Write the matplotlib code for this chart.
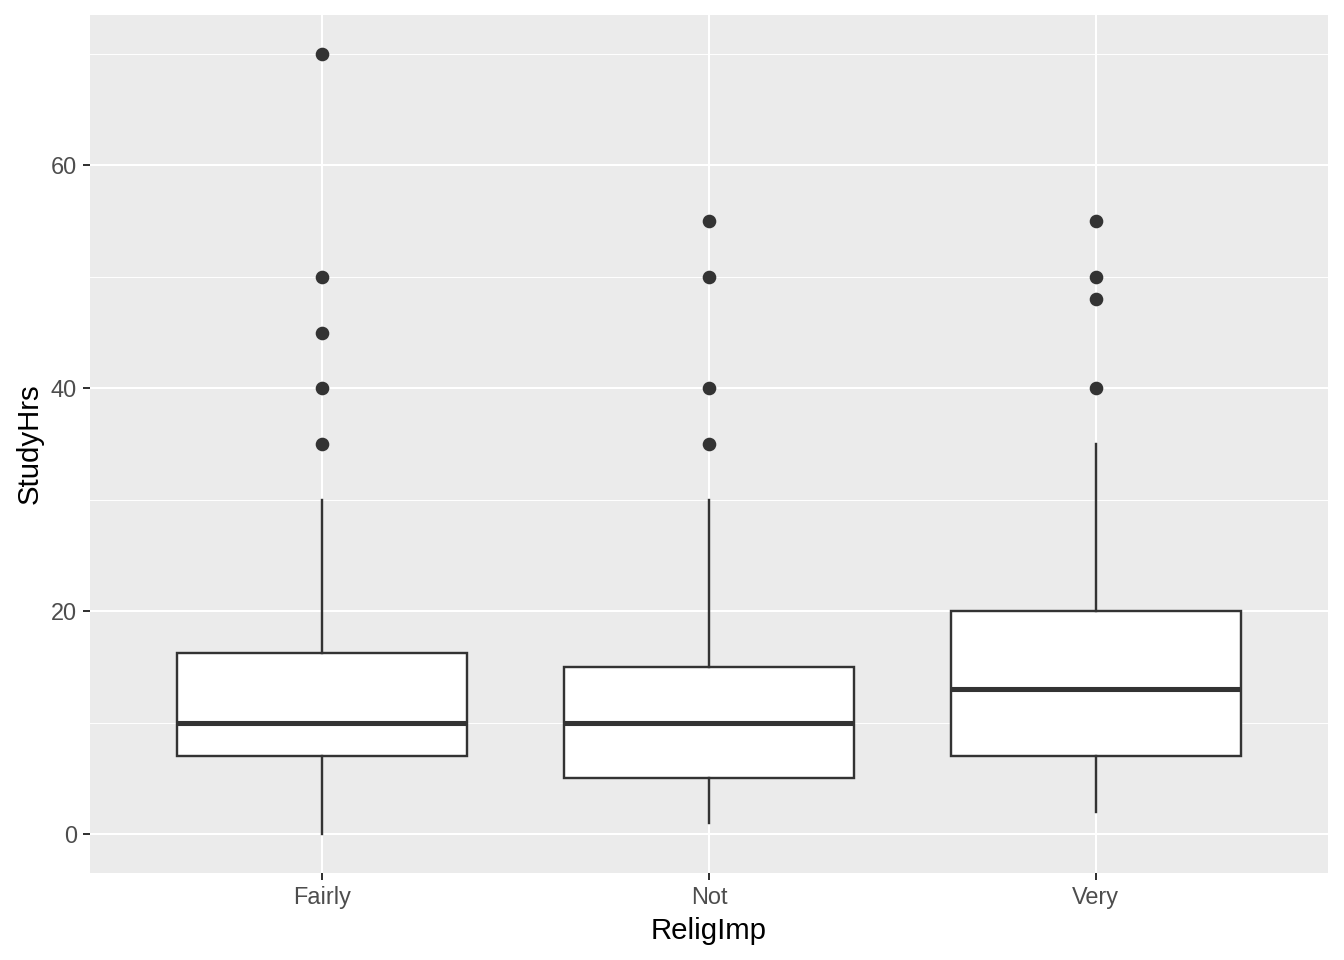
import matplotlib
matplotlib.use("Agg")
import matplotlib.pyplot as plt

categories = ["Fairly", "Not", "Very"]
q1 = [7, 5, 7]
med = [10, 10, 13]
q3 = [16.25, 15, 20]
whislo = [0, 1, 2]
whishi = [30, 30, 35]
fliers = [[35, 40, 45, 50, 70], [35, 40, 50, 55], [40, 48, 50, 55]]

plt.rcParams['font.family'] = ['Liberation Sans', 'DejaVu Sans']

fig = plt.figure(figsize=(7, 5), dpi=192)
ax = fig.add_axes([90/1344, 1-873/960, (1328-90)/1344, (873-15)/960])
ax.set_facecolor('#EBEBEB')

stats = []
for i, c in enumerate(categories):
    stats.append(dict(label=c, q1=q1[i], med=med[i], q3=q3[i],
                      whislo=whislo[i], whishi=whishi[i], fliers=fliers[i]))

dark = '#333333'
ax.bxp(stats, positions=[1, 2, 3], widths=0.75, patch_artist=True,
       showcaps=False,
       boxprops=dict(facecolor='white', edgecolor=dark, linewidth=0.9),
       medianprops=dict(color=dark, linewidth=1.9, solid_capstyle='butt'),
       whiskerprops=dict(color=dark, linewidth=0.9),
       flierprops=dict(marker='o', markerfacecolor=dark, markeredgecolor=dark,
                       markersize=4.1, linestyle='none'),
       zorder=3)

ax.set_xlim(0.4, 3.6)
ax.set_ylim(-3.5, 73.5)
ax.set_yticks([0, 20, 40, 60])
ax.set_yticks([10, 30, 50, 70], minor=True)
ax.set_xticks([1, 2, 3])
ax.set_xticklabels(categories)

ax.grid(True, which='major', color='white', linewidth=0.75, zorder=0)
ax.grid(True, which='minor', axis='y', color='white', linewidth=0.37, zorder=0)
ax.set_axisbelow(True)
for s in ax.spines.values():
    s.set_visible(False)

ax.tick_params(axis='both', which='major', length=2.75, width=0.75, color=dark,
               labelsize=8.8, labelcolor='#4D4D4D', pad=2.2)
ax.tick_params(axis='y', which='minor', length=0)

ax.set_xlabel('ReligImp', fontsize=11, color='black', labelpad=2.75)
ax.set_ylabel('StudyHrs', fontsize=11, color='black', labelpad=2.75)

fig.savefig('out.png', dpi=192)
